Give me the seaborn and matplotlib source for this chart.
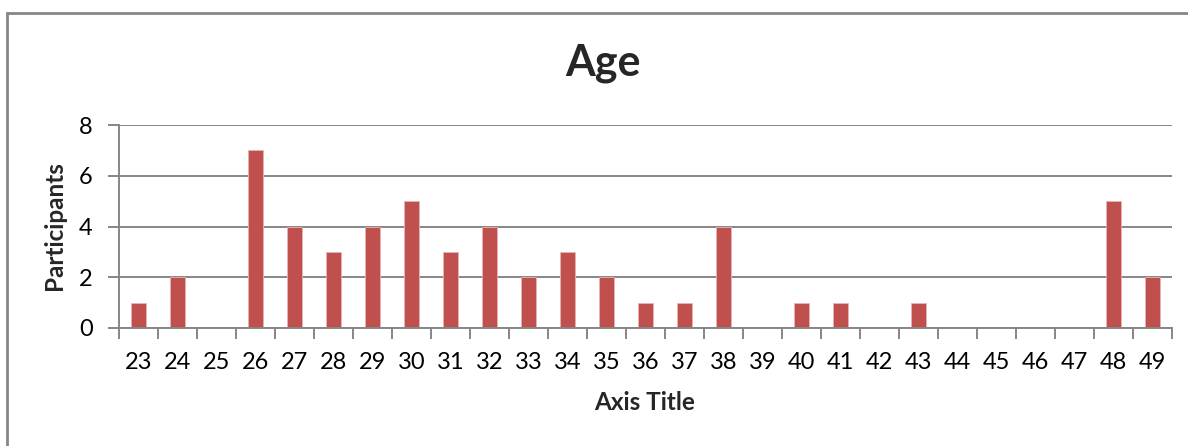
import matplotlib
matplotlib.use("Agg")
import matplotlib.pyplot as plt
from matplotlib.patches import Rectangle
from matplotlib.ticker import FixedLocator
import numpy as np
import pandas as pd
import seaborn as sns

# Participant counts per age
ages = [str(a) for a in range(23, 50)]
participants = [1, 2, 0, 7, 4, 3, 4, 5, 3, 4, 2, 3, 2, 1, 1, 4, 0, 1, 1, 0, 1, 0, 0, 0, 0, 5, 2]
y_ticks = [0, 2, 4, 6, 8]

df = pd.DataFrame({"Age": ages, "Participants": participants})

sns.set_theme(style="white")
plt.rcParams["font.family"] = ["Lato", "DejaVu Sans"]

W, H = 1188, 446
fig = plt.figure(figsize=(W / 100, H / 100), dpi=100)
ax = fig.add_axes([119 / W, 1 - 328 / H, (1172 - 119) / W, (328 - 125) / H])

grid_c = "#868686"
sns.barplot(data=df, x="Age", y="Participants", order=ages, color="#C0504D",
            saturation=1, width=0.39, edgecolor="#E8B5B4", linewidth=0.6, ax=ax)

ax.set_xlim(-0.5, len(ages) - 0.5)
ax.set_ylim(0, 8)
ax.set_yticks(y_ticks)
ax.yaxis.grid(True, color=grid_c, linewidth=1.4)
ax.set_axisbelow(True)

for s in ["top", "right"]:
    ax.spines[s].set_visible(False)
for s in ["left", "bottom"]:
    ax.spines[s].set_color(grid_c)
    ax.spines[s].set_linewidth(1.4)

# Tick marks between categories
ax.xaxis.set_minor_locator(FixedLocator(np.arange(-0.5, len(ages), 1.0)))
ax.tick_params(axis="x", which="major", length=0, pad=17, labelsize=17, colors="black")
ax.tick_params(axis="x", which="minor", length=8, width=1.4, color=grid_c, direction="out", bottom=True)
ax.tick_params(axis="y", which="major", length=8, width=1.4, color=grid_c, direction="out",
               left=True, pad=11, labelsize=17, labelcolor="black")

ax.set_xlabel("")
ax.set_ylabel("")
fig.text(603 / W, 1 - 63 / H, "Age", ha="center", va="center", fontsize=31, fontweight="bold")
fig.text(645 / W, 1 - 403 / H, "Axis Title", ha="center", va="center", fontsize=17.5, fontweight="bold")
fig.text(55 / W, 1 - 226 / H, "Participants", ha="center", va="center", rotation=90,
         fontsize=17.5, fontweight="bold")

# Chart frame
fig.patches.append(Rectangle((7 / W, -0.1), 1.2, 1 - 13 / H + 0.1, transform=fig.transFigure,
                             fill=False, edgecolor=grid_c, linewidth=2, zorder=-1))

fig.savefig("out.png", dpi=100, facecolor="white")
